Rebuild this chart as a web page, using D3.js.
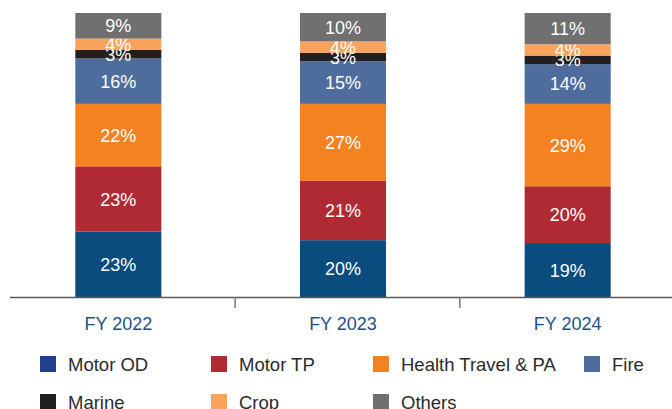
<!DOCTYPE html>
<html>
<head>
<meta charset="utf-8">
<script src="https://cdn.jsdelivr.net/npm/d3@7/dist/d3.min.js"></script>
<style>
  html, body { margin: 0; padding: 0; background: #fff; }
  svg { display: block; font-family: "Liberation Sans", Arial, sans-serif; }
</style>
</head>
<body>
<svg id="chart" width="672" height="409"></svg>
<script>
// Portfolio mix by line of business (% of premium)
const years = ["FY 2022", "FY 2023", "FY 2024"];
const segments = ["Motor OD", "Motor TP", "Health Travel & PA", "Fire", "Marine", "Crop", "Others"];
const motorOD  = [23, 20, 19];
const motorTP  = [23, 21, 20];
const health   = [22, 27, 29];
const fire     = [16, 15, 14];
const marine   = [3, 3, 3];
const crop     = [4, 4, 4];
const others   = [9, 10, 11];
const barColors    = ["#0b4c7f", "#b02a33", "#f58220", "#4f6d9c", "#231f20", "#f9a35c", "#707070"];
const legendColors = ["#23408f", "#b02a33", "#f58220", "#4f6d9c", "#231f20", "#f9a35c", "#707070"];

const seriesValues = [motorOD, motorTP, health, fire, marine, crop, others];
const rows = years.map((yr, i) => {
  const r = { year: yr };
  segments.forEach((s, k) => { r[s] = seriesValues[k][i]; });
  return r;
});

const svg = d3.select("#chart");
const baseY = 297, topY = 13;

const x = d3.scaleBand().domain(years).range([6, 680]).paddingInner(0.617).paddingOuter(0.3085);
const y = d3.scaleLinear().domain([0, 100]).range([baseY, topY]);
const color = d3.scaleOrdinal().domain(segments).range(barColors);

const stacked = d3.stack().keys(segments)(rows);

const layers = svg.append("g").selectAll("g")
  .data(stacked).join("g")
  .attr("fill", d => color(d.key));

layers.selectAll("rect")
  .data(d => d).join("rect")
  .attr("x", d => x(d.data.year))
  .attr("width", x.bandwidth())
  .attr("y", d => y(d[1]))
  .attr("height", d => y(d[0]) - y(d[1]));

layers.selectAll("text")
  .data(d => d).join("text")
  .attr("x", d => x(d.data.year) + x.bandwidth() / 2)
  .attr("y", d => (y(d[0]) + y(d[1])) / 2)
  .attr("dy", "0.36em")
  .attr("text-anchor", "middle")
  .attr("fill", "#fff")
  .attr("font-size", 18)
  .text(d => (d[1] - d[0]) + "%");

// Category axis: baseline, separators between years, labels under bars
const axis = svg.append("g");
axis.append("line")
  .attr("x1", 10).attr("x2", 672)
  .attr("y1", baseY + 0.5).attr("y2", baseY + 0.5)
  .attr("stroke", "#5a5a5a").attr("stroke-width", 1.5);

const tickShift = 4.5;
axis.selectAll("line.sep")
  .data(years.slice(1)).join("line")
  .attr("class", "sep")
  .attr("x1", d => x(d) - x.step() * x.paddingInner() / 2 + tickShift)
  .attr("x2", d => x(d) - x.step() * x.paddingInner() / 2 + tickShift)
  .attr("y1", baseY).attr("y2", 308)
  .attr("stroke", "#777").attr("stroke-width", 1.5);

axis.selectAll("text")
  .data(years).join("text")
  .attr("x", d => x(d) + x.bandwidth() / 2)
  .attr("y", 330)
  .attr("text-anchor", "middle")
  .attr("fill", "#1c5187")
  .attr("font-size", 18)
  .text(d => d);

// Legend: two rows
const legendCols = [40, 211, 373, 584];
const legendRows = [356, 394];
const legend = svg.append("g").selectAll("g")
  .data(segments).join("g")
  .attr("transform", (d, i) => `translate(${legendCols[i % 4]},${legendRows[Math.floor(i / 4)]})`);

legend.append("rect")
  .attr("width", 16).attr("height", 16)
  .attr("fill", (d, i) => legendColors[i]);

legend.append("text")
  .attr("x", 28).attr("y", 15)
  .attr("fill", "#2b2b2b")
  .attr("font-size", 18.5)
  .text(d => d);
</script>
</body>
</html>
